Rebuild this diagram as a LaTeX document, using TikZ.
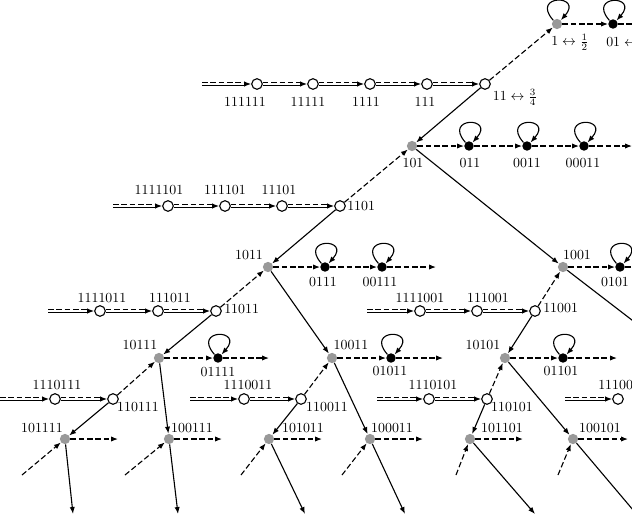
\documentclass[tikz,border=0pt]{standalone}
\usetikzlibrary{arrows.meta}
\tikzset{
 gnode/.style={circle, fill=gray!80, inner sep=0pt, minimum size=7.4pt},
 bnode/.style={circle, fill=black, inner sep=0pt, minimum size=6.8pt},
 wnode/.style={circle, draw, fill=white, inner sep=0pt, minimum size=7.6pt, line width=0.8pt},
 lbl/.style={inner sep=0pt},
 arr/.style={-{Latex[length=5pt,width=3.8pt]}, line width=0.8pt},
 dsh/.style={arr, dash pattern=on 4pt off 2pt},
 sol/.style={arr},
}
\newcommand\selfloop[1]{\draw[arr] (#1.north west) .. controls +(-23,-26) and +(23,-26) .. (#1.north east);}
\newcommand\dblarrow[2]{%
 \draw[line width=0.75pt, dash pattern=on 4pt off 2pt] ([yshift=1.05pt]#1.east) -- ([yshift=1.05pt,xshift=-4pt]#2.west);
 \draw[line width=0.75pt] ([yshift=-1.05pt]#1.east) -- ([yshift=-1.05pt,xshift=-4pt]#2.west);
 \draw[arr] ([xshift=-4.5pt]#2.west) -- (#2.west);}
\begin{document}
\begin{tikzpicture}[x=0.72pt,y=-0.72pt]
\useasboundingbox (0,0) rectangle (632,517);
\clip (0,0) rectangle (632,517);
% gray nodes
\node[gnode] (g1) at (557,24) {};
\node[gnode] (g101) at (412,146) {};
\node[gnode] (g1011) at (268,267) {};
\node[gnode] (g1001) at (563,267) {};
\node[gnode] (g10111) at (159,358) {};
\node[gnode] (g10011) at (332,358) {};
\node[gnode] (g10101) at (505,358) {};
\node[gnode] (g101111) at (65,439) {};
\node[gnode] (g100111) at (169,439) {};
\node[gnode] (g101011) at (269,439) {};
\node[gnode] (g100011) at (370,439) {};
\node[gnode] (g101101) at (470,439) {};
\node[gnode] (g100101) at (573,439) {};
% black nodes
\node[bnode] (b01) at (613,24) {};
\node[bnode] (b011) at (469,146) {};
\node[bnode] (b0011) at (527,146) {};
\node[bnode] (b00011) at (584,146) {};
\node[bnode] (b0111) at (325,267) {};
\node[bnode] (b00111) at (382,267) {};
\node[bnode] (b0101) at (620,267) {};
\node[bnode] (b01111) at (218,358) {};
\node[bnode] (b01011) at (391,358) {};
\node[bnode] (b01101) at (563,358) {};
% white nodes
\node[wnode] (w11) at (485,84) {};
\node[wnode] (w111) at (427,84) {};
\node[wnode] (w1111) at (370,84) {};
\node[wnode] (w11111) at (313,84) {};
\node[wnode] (w111111) at (257,84) {};
\node[wnode] (w1101) at (340,206) {};
\node[wnode] (w11101) at (282,206) {};
\node[wnode] (w111101) at (225,206) {};
\node[wnode] (w1111101) at (168,206) {};
\node[wnode] (w11011) at (216,311) {};
\node[wnode] (w111011) at (158,311) {};
\node[wnode] (w1111011) at (100,311) {};
\node[wnode] (w11001) at (535,311) {};
\node[wnode] (w111001) at (477,311) {};
\node[wnode] (w1111001) at (420,311) {};
\node[wnode] (w110111) at (113,399) {};
\node[wnode] (w1110111) at (55,399) {};
\node[wnode] (w110011) at (301,399) {};
\node[wnode] (w1110011) at (244,399) {};
\node[wnode] (w110101) at (487,399) {};
\node[wnode] (w1110101) at (429,399) {};
\node[wnode] (w11100) at (618,399) {};
% free ends
\coordinate (s2) at (202,84);
\coordinate (s4) at (113,206);
\coordinate (s6a) at (48,311);
\coordinate (s6b) at (367,311);
\coordinate (s8a) at (0,399);
\coordinate (s8b) at (190,399);
\coordinate (s8c) at (377,399);
\coordinate (s8d) at (565,399);
\coordinate (e01) at (650,24);
\coordinate (e00011) at (632,146);
\coordinate (e00111) at (436,267);
\coordinate (e0101) at (650,267);
\coordinate (e1001) at (654,337);
\coordinate (e01111) at (269,358);
\coordinate (e01011) at (443,358);
\coordinate (e01101) at (617,358);
\coordinate (r101111) at (118,439);
\coordinate (r100111) at (222,439);
\coordinate (r101011) at (322,439);
\coordinate (r100011) at (423,439);
\coordinate (r101101) at (523,439);
\coordinate (r100101) at (628,439);
\coordinate (i101111) at (22,475);
\coordinate (i100111) at (125,475);
\coordinate (i101011) at (241,475);
\coordinate (i100011) at (342,475);
\coordinate (i101101) at (456,475);
\coordinate (i100101) at (558,475);
\coordinate (d101111) at (73,514);
\coordinate (d100111) at (178,514);
\coordinate (d101011) at (305,514);
\coordinate (d100011) at (405,514);
\coordinate (d101101) at (535,514);
\coordinate (d100101) at (650,530);
% double arrows
\dblarrow{s2}{w111111}\dblarrow{w111111}{w11111}\dblarrow{w11111}{w1111}\dblarrow{w1111}{w111}\dblarrow{w111}{w11}
\dblarrow{s4}{w1111101}\dblarrow{w1111101}{w111101}\dblarrow{w111101}{w11101}\dblarrow{w11101}{w1101}
\dblarrow{s6a}{w1111011}\dblarrow{w1111011}{w111011}\dblarrow{w111011}{w11011}
\dblarrow{s6b}{w1111001}\dblarrow{w1111001}{w111001}\dblarrow{w111001}{w11001}
\dblarrow{s8a}{w1110111}\dblarrow{w1110111}{w110111}
\dblarrow{s8b}{w1110011}\dblarrow{w1110011}{w110011}
\dblarrow{s8c}{w1110101}\dblarrow{w1110101}{w110101}
\dblarrow{s8d}{w11100}
% white to gray
\draw[dsh] (w11) -- (g1);
\draw[sol] (w11) -- (g101);
\draw[dsh] (w1101) -- (g101);
\draw[sol] (w1101) -- (g1011);
\draw[dsh] (w11011) -- (g1011);
\draw[sol] (w11011) -- (g10111);
\draw[dsh] (w11001) -- (g1001);
\draw[sol] (w11001) -- (g10101);
\draw[dsh] (w110111) -- (g10111);
\draw[sol] (w110111) -- (g101111);
\draw[dsh] (w110011) -- (g10011);
\draw[sol] (w110011) -- (g101011);
\draw[dsh] (w110101) -- (g10101);
\draw[sol] (w110101) -- (g101101);
% gray to gray
\draw[sol] (g101) -- (g1001);
\draw[sol] (g1011) -- (g10011);
\draw[sol] (g1001) -- (e1001);
\draw[sol] (g10111) -- (g100111);
\draw[sol] (g10011) -- (g100011);
\draw[sol] (g10101) -- (g100101);
% horizontal dashed chains
\draw[dsh] (g1) -- (b01);
\draw[dsh] (b01) -- (e01);
\draw[dsh] (g101) -- (b011);
\draw[dsh] (b011) -- (b0011);
\draw[dsh] (b0011) -- (b00011);
\draw[dsh] (b00011) -- (e00011);
\draw[dsh] (g1011) -- (b0111);
\draw[dsh] (b0111) -- (b00111);
\draw[dsh] (b00111) -- (e00111);
\draw[dsh] (g1001) -- (b0101);
\draw[dsh] (b0101) -- (e0101);
\draw[dsh] (g10111) -- (b01111);
\draw[dsh] (b01111) -- (e01111);
\draw[dsh] (g10011) -- (b01011);
\draw[dsh] (b01011) -- (e01011);
\draw[dsh] (g10101) -- (b01101);
\draw[dsh] (b01101) -- (e01101);
% bottom row
\foreach \n in {101111,100111,101011,100011,101101,100101}{
 \draw[dsh] (i\n) -- (g\n);
 \draw[dsh] (g\n) -- (r\n);
 \draw[sol] (g\n) -- (d\n);
}
% loops
\selfloop{g1}\selfloop{b01}
\selfloop{b011}\selfloop{b0011}\selfloop{b00011}
\selfloop{b0111}\selfloop{b00111}\selfloop{b0101}
\selfloop{b01111}\selfloop{b01011}\selfloop{b01101}
% labels
\node[lbl] (l1) at (570,42) {$1\leftrightarrow\frac{1}{2}$};
\node[lbl, anchor=west] (l01) at (606,42) {$01\leftrightarrow$};
\node[lbl] (l11) at (515,97) {$11\leftrightarrow\frac{3}{4}$};
\node[lbl] (l111111) at (245,102) {111111};
\node[lbl] (l11111) at (308,102) {11111};
\node[lbl] (l1111) at (366,102) {1111};
\node[lbl] (l111) at (425,102) {111};
\node[lbl] (l101) at (413,163) {101};
\node[lbl] (l011) at (470,163) {011};
\node[lbl] (l0011) at (527,163) {0011};
\node[lbl] (l00011) at (583,163) {00011};
\node[lbl] (l1111101) at (159,190) {1111101};
\node[lbl] (l111101) at (225,190) {111101};
\node[lbl] (l11101) at (279,190) {11101};
\node[lbl, anchor=west] (l1101) at (347,206) {1101};
\node[lbl] (l1011) at (249,255) {1011};
\node[lbl] (l0111) at (323,282) {0111};
\node[lbl] (l00111) at (380,282) {00111};
\node[lbl] (l1001) at (577,255) {1001};
\node[lbl] (l0101) at (615,282) {0101};
\node[lbl] (l1111011) at (102,298) {1111011};
\node[lbl] (l111011) at (170,298) {111011};
\node[lbl, anchor=west] (l11011) at (224,309) {11011};
\node[lbl] (l1111001) at (420,298) {1111001};
\node[lbl] (l111001) at (488,298) {111001};
\node[lbl, anchor=west] (l11001) at (543,308) {11001};
\node[lbl] (l10111) at (140,345) {10111};
\node[lbl] (l01111) at (218,372) {01111};
\node[lbl] (l10011) at (351,345) {10011};
\node[lbl] (l01011) at (390,371) {01011};
\node[lbl] (l10101) at (483,345) {10101};
\node[lbl] (l01101) at (561,371) {01101};
\node[lbl] (l1110111) at (57,385) {1110111};
\node[lbl] (l110111) at (138,407) {110111};
\node[lbl] (l1110011) at (248,385) {1110011};
\node[lbl] (l110011) at (327,407) {110011};
\node[lbl] (l1110101) at (433,385) {1110101};
\node[lbl] (l110101) at (512,407) {110101};
\node[lbl, anchor=west] (l11100) at (598,385) {11100};
\node[lbl] (l101111) at (42,428) {101111};
\node[lbl] (l100111) at (192,428) {100111};
\node[lbl] (l101011) at (303,428) {101011};
\node[lbl] (l100011) at (392,428) {100011};
\node[lbl] (l101101) at (502,428) {101101};
\node[lbl] (l100101) at (600,428) {100101};
\end{tikzpicture}
\end{document}
